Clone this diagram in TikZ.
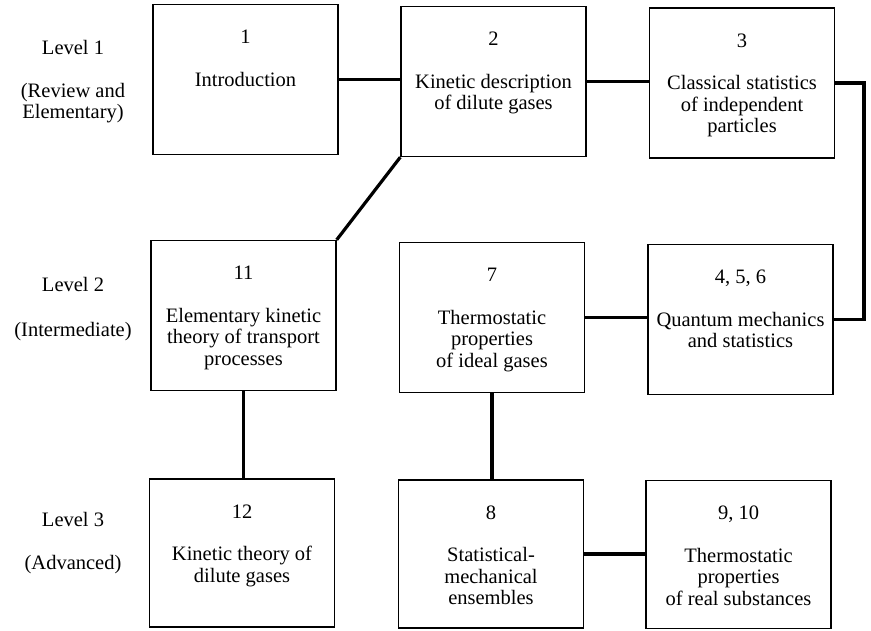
\documentclass[tikz,border=0pt]{standalone}
\usepackage{fontspec}
\setmainfont{Liberation Serif}
\usepackage{tikz}
\usetikzlibrary{calc}
\tikzset{
  unitbox/.style={
    rectangle, draw=black, line width=1.4pt,
    minimum width=185pt, minimum height=150pt,
    inner sep=0pt
  },
  unitnum/.style={anchor=base, inner sep=0pt,
    font=\fontsize{20.5}{21.5}\selectfont},
  unittext/.style={anchor=north, inner sep=0pt, align=center,
    font=\fontsize{20.5}{21.5}\selectfont},
  levellabel/.style={anchor=north, inner sep=0pt, align=center,
    font=\fontsize{20.5}{21.5}\selectfont},
  link/.style={draw=black, line width=3.2pt},
}

\begin{document}
\begin{tikzpicture}[x=1pt, y=-1pt]
\fill[white] (0,0) rectangle (871,630);
\useasboundingbox (0,0) rectangle (871,630);

% level labels
\node[levellabel] (lev1) at (73,40) {Level 1\\[21.5pt](Review and\\Elementary)};
\node[levellabel] (lev2) at (73,277) {Level 2\\[23.5pt](Intermediate)};
\node[levellabel] (lev3) at (73,512) {Level 3\\[21.5pt](Advanced)};

% level 1
\node[unitbox] (intro) at (245.5,79.5) {};
\node[unitnum] (intro-n) at ([yshift=-40pt]intro.north) {1};
\node[unittext] (intro-t) at ([yshift=-68pt]intro.north) {Introduction};

\node[unitbox] (kindesc) at (493.5,81.5) {};
\node[unitnum] (kindesc-n) at ([yshift=-40pt]kindesc.north) {2};
\node[unittext] (kindesc-t) at ([yshift=-68pt]kindesc.north) {Kinetic description\\of dilute gases};

\node[unitbox] (classtat) at (742,83) {};
\node[unitnum] (classtat-n) at ([yshift=-40pt]classtat.north) {3};
\node[unittext] (classtat-t) at ([yshift=-68pt]classtat.north) {Classical statistics\\of independent\\particles};

% level 2
\node[unitbox] (elemkin) at (243.5,315.5) {};
\node[unitnum] (elemkin-n) at ([yshift=-40pt]elemkin.north) {11};
\node[unittext] (elemkin-t) at ([yshift=-68pt]elemkin.north) {Elementary kinetic\\theory of transport\\processes};

\node[unitbox] (thermideal) at (492,317.5) {};
\node[unitnum] (thermideal-n) at ([yshift=-40pt]thermideal.north) {7};
\node[unittext] (thermideal-t) at ([yshift=-68pt]thermideal.north) {Thermostatic\\properties\\of ideal gases};

\node[unitbox] (quantum) at (740.5,319.5) {};
\node[unitnum] (quantum-n) at ([yshift=-40pt]quantum.north) {4, 5, 6};
\node[unittext] (quantum-t) at ([yshift=-68pt]quantum.north) {Quantum mechanics\\and statistics};

% level 3
\node[unitbox, minimum height=148pt] (kindilute) at (242,553) {};
\node[unitnum] (kindilute-n) at ([yshift=-40pt]kindilute.north) {12};
\node[unittext] (kindilute-t) at ([yshift=-68pt]kindilute.north) {Kinetic theory of\\dilute gases};

\node[unitbox, minimum height=148pt] (ensembles) at (491,554) {};
\node[unitnum] (ensembles-n) at ([yshift=-40pt]ensembles.north) {8};
\node[unittext] (ensembles-t) at ([yshift=-68pt]ensembles.north) {Statistical-\\mechanical\\ensembles};

\node[unitbox, minimum height=148pt] (realsub) at (738.5,554.5) {};
\node[unitnum] (realsub-n) at ([yshift=-40pt]realsub.north) {9, 10};
\node[unittext] (realsub-t) at ([yshift=-68pt]realsub.north) {Thermostatic\\properties\\of real substances};

% connectors
\coordinate (bend) at (864,0);
\draw[link] (intro.east) -- (intro.east -| kindesc.west);
\draw[link] (kindesc.east) -- (kindesc.east -| classtat.west);
\draw[link] (classtat.east) -- (classtat.east -| bend) -- (quantum.east -| bend) -- (quantum.east);
\draw[link] (kindesc.south west) -- (elemkin.north east);
\draw[link] (thermideal.east) -- (thermideal.east -| quantum.west);
\draw[link] (elemkin.south) -- (elemkin.south |- kindilute.north);
\draw[link] (thermideal.south) -- (thermideal.south |- ensembles.north);
\draw[link] (ensembles.east) -- (ensembles.east -| realsub.west);
\end{tikzpicture}
\end{document}
